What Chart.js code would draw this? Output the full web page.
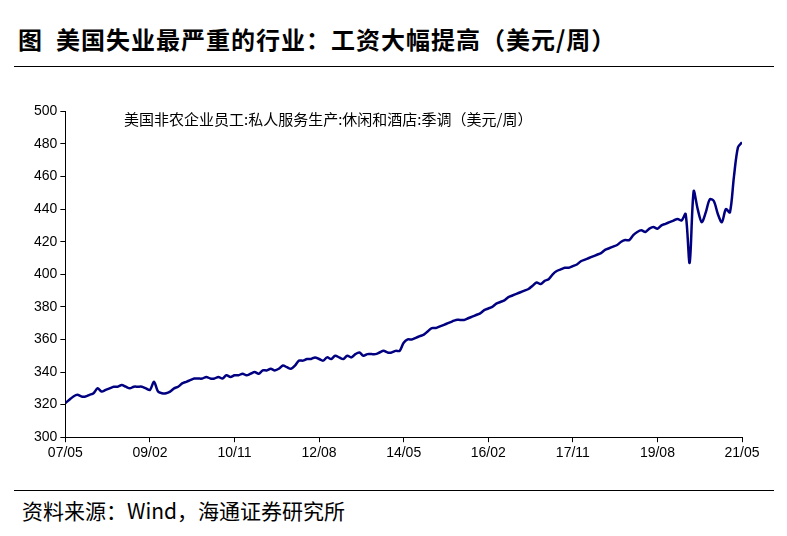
<!DOCTYPE html>
<html><head><meta charset="utf-8">
<script src="https://cdn.jsdelivr.net/npm/chart.js@4"></script>
<style>
body{margin:0;background:#fff;font-family:"Noto Sans CJK SC",sans-serif;}
#title{position:absolute;left:18px;top:21px;font-size:24px;font-weight:bold;color:#000;letter-spacing:1px;}
#l1{position:absolute;left:14px;top:66px;width:760px;border-top:1.5px solid #000;}
#l2{position:absolute;left:14px;top:490px;width:760px;border-top:1.5px solid #000;}
#src{position:absolute;left:22px;top:495px;font-size:21px;color:#000;}
#leg{position:absolute;left:124px;top:108px;font-size:15px;color:#000;}
#box{position:absolute;left:10px;top:100px;width:765px;height:365px;}
</style></head><body>
<div id="title">图&nbsp; 美国失业最严重的行业：工资大幅提高（美元/周）</div>
<div id="l1"></div>
<div id="box"><canvas id="chart"></canvas></div>
<div id="leg">美国非农企业员工:私人服务生产:休闲和酒店:季调（美元/周）</div>
<div id="l2"></div>
<div id="src">资料来源：Wind，海通证券研究所</div>
<script>
// monthly, 2007/05 .. 2021/05
const y2007 = [321,323,325,326,325,325,326,327];
const y2008 = [330,328,329,330,331,331,332,331,330,331,331,331];
const y2009 = [330,329,334,328,327,327,328,330,331,333,334,335];
const y2010 = [336,336,336,337,336,336,337,336,338,337,338,338];
const y2011 = [339,338,339,340,339,341,341,342,341,342,344,343];
const y2012 = [342,344,347,347,348,348,349,348,347,349,348,350];
const y2013 = [349,348,350,349,351,352,350,351,351,351,352,353];
const y2014 = [352,352,353,353,358,360,360,361,362,363,365,367];
const y2015 = [367,368,369,370,371,372,372,372,373,374,375,376];
const y2016 = [378,379,380,382,383,384,386,387,388,389,390,391];
const y2017 = [393,395,394,396,397,400,402,403,404,404,405,406];
const y2018 = [408,409,410,411,412,413,415,416,417,418,420,421];
const y2019 = [421,424,426,427,426,428,429,428,430,431,432,433];
const y2020 = [434,433,437,407,451,440,432,438,446,445,437,432];
const y2021 = [440,438,460,478,481];
const tickLabels = ["07/05","09/02","10/11","12/08","14/05","16/02","17/11","19/08","21/05"];

const values = [].concat(y2007,y2008,y2009,y2010,y2011,y2012,y2013,y2014,y2015,y2016,y2017,y2018,y2019,y2020,y2021);
const points = values.map((v, i) => ({x: i, y: v}));
const ctx = document.getElementById("chart").getContext("2d");
const tickFont = {family: "Liberation Sans", size: 14};

new Chart(ctx, {
  type: "line",
  data: {datasets: [{data: points, borderColor: "#000080", borderWidth: 2.5, pointRadius: 0, tension: 0.3}]},
  options: {
    animation: false, responsive: true, maintainAspectRatio: false,
    layout: {padding: {top: 10, left: 21, right: 33}},
    plugins: {legend: {display: false}, tooltip: {enabled: false}},
    scales: {
      x: {type: "linear", min: 0, max: values.length - 1,
        ticks: {stepSize: 21, color: "#000", font: tickFont, maxRotation: 0,
          callback: v => tickLabels[v / 21]},
        grid: {drawOnChartArea: false, color: "#000", tickLength: 5},
        border: {color: "#000"}},
      y: {min: 300, max: 500,
        ticks: {stepSize: 20, color: "#000", font: tickFont},
        grid: {drawOnChartArea: false, color: "#000", tickLength: 5},
        border: {color: "#000"}}
    }
  }
});
</script>
</body></html>
